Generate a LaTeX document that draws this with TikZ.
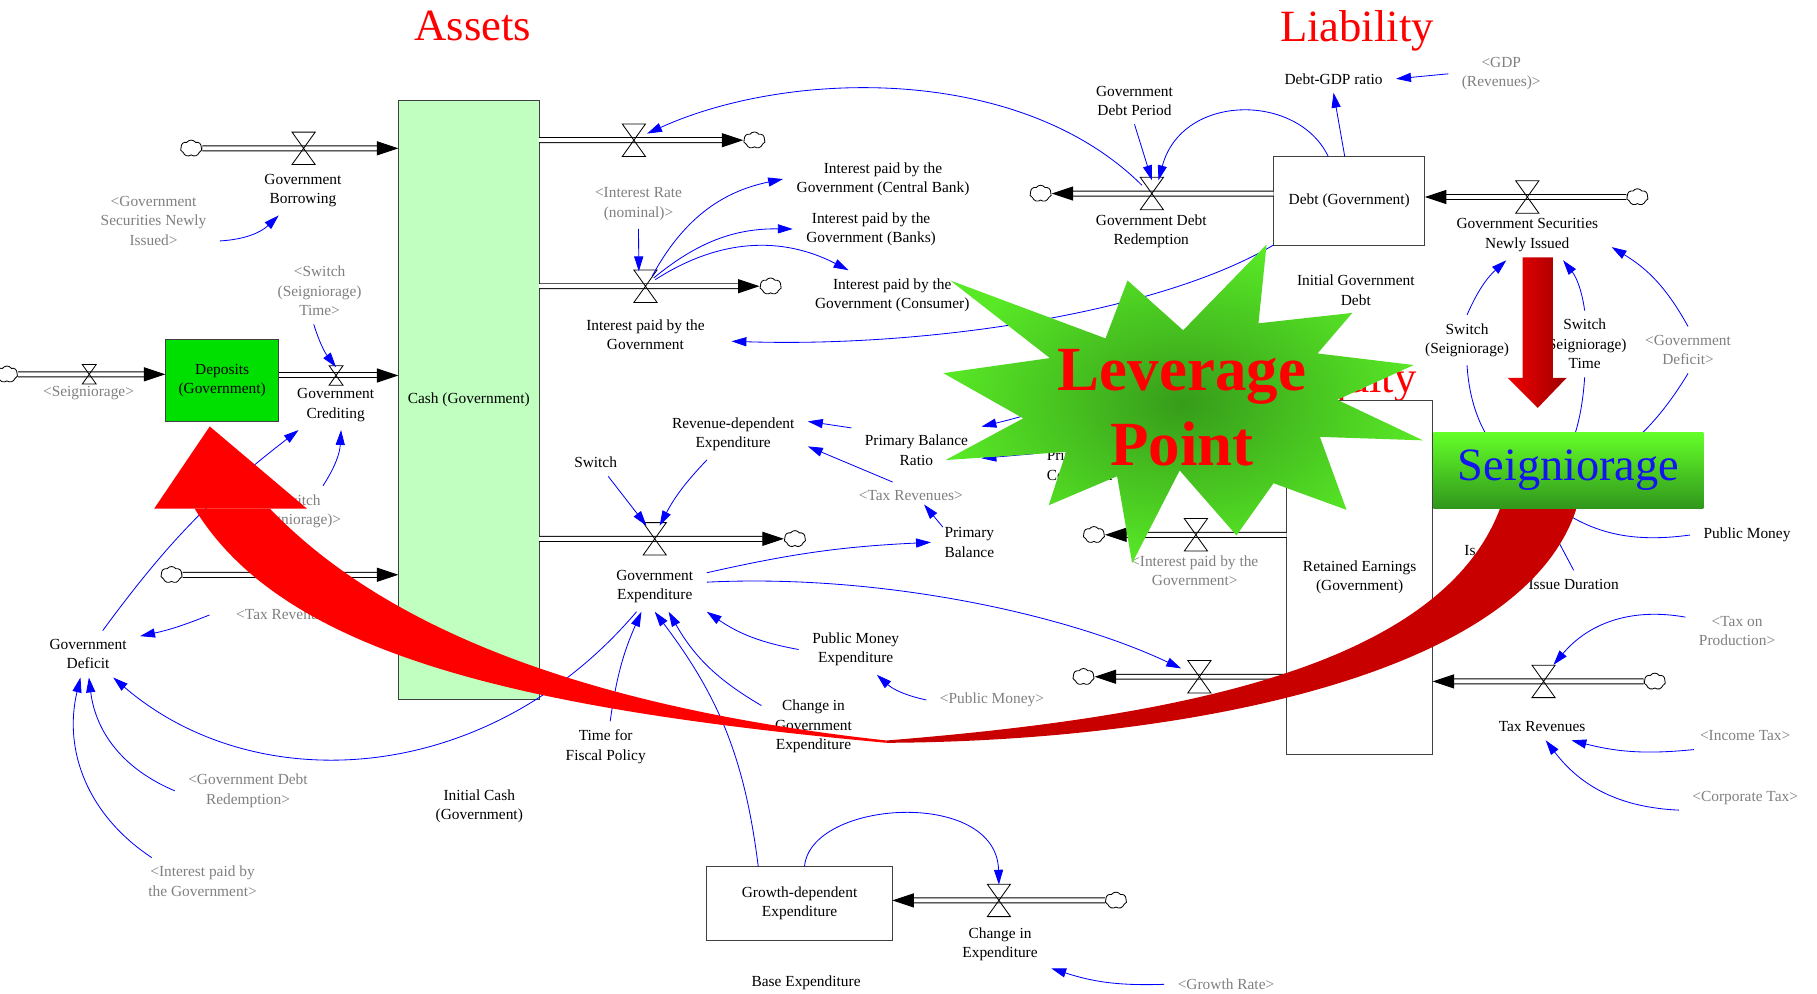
\documentclass[tikz,border=0pt]{standalone}
\usepackage{fontspec}
\setmainfont{Liberation Serif}
\usepackage{tikz}
\usetikzlibrary{arrows.meta,positioning,calc,shapes.symbols}
\definecolor{vblue}{RGB}{0,0,255}
\definecolor{shadowgray}{RGB}{128,128,128}
\definecolor{cashgreen}{RGB}{192,255,192}
\definecolor{depgreen}{RGB}{0,224,0}
\definecolor{burstlight}{RGB}{88,232,38}
\definecolor{burstdark}{RGB}{54,156,26}
\definecolor{seiglight}{RGB}{100,255,40}
\definecolor{seigdark}{RGB}{48,150,28}
\definecolor{seigblue}{RGB}{20,20,240}
\definecolor{banddark}{RGB}{200,0,0}
\definecolor{stockline}{RGB}{64,64,64}

% hourglass valve on a flow pipe
\newcommand{\valve}[2]{%
  \draw[valveline] ($(#1)+(-10*#2,-14*#2)$) -- ($(#1)+(10*#2,-14*#2)$)
    -- ($(#1)+(-10*#2,14*#2)$) -- ($(#1)+(10*#2,14*#2)$) -- cycle;}

\begin{document}
\begin{tikzpicture}[x=0.7pt, y=-0.7pt,
  lbl/.style={align=center, font=\fontsize{9.3}{11.7}\selectfont, inner xsep=8pt, inner ysep=5pt},
  shd/.style={lbl, text=shadowgray},
  ttl/.style={font=\fontsize{27}{30}\selectfont, text=red, anchor=base, inner sep=0pt},
  stock/.style={draw=stockline, line width=0.6pt, inner sep=0pt, outer sep=0pt,
                align=center, font=\fontsize{9.3}{11.7}\selectfont},
  cloudy/.style={cloud, cloud puffs=7, cloud puff arc=110, aspect=1.3, draw, fill=white,
                 minimum width=13pt, minimum height=10pt, inner sep=0pt, line width=0.5pt},
  pipe/.style={draw, double=white, double distance=2.4pt, line width=0.6pt,
               -{Triangle[length=13pt,width=8.5pt]}},
  valveline/.style={draw=black, line width=0.5pt},
  link/.style={draw=vblue, line width=0.5pt, -{Triangle[length=9pt,width=5.5pt]}}
]
  \path[use as bounding box, fill=white] (0,0) rectangle (1568,857);

  % Titles
  \node[ttl] (assetsT) at (408,35)  {Assets};
  \node[ttl] (liabT)   at (1171,36) {Liability};
  \node[ttl] (equityT) at (1171,339) {Equity};

  % Stocks
  \node[stock, fill=cashgreen, minimum width=85pt, minimum height=361.6pt] (cash) at (404.5,345.3) {Cash (Government)};
  \node[stock, fill=depgreen, minimum width=68.6pt, minimum height=49.7pt] (deposits) at (191.7,328.4) {Deposits\\(Government)};
  \node[stock, fill=white, minimum width=91.4pt, minimum height=53.5pt] (debt) at (1164.3,173.2) {Debt (Government)};
  \node[stock, fill=white, minimum width=88.1pt, minimum height=214pt] (retained) at (1173.3,498.1) {Retained Earnings\\(Government)};
  \node[stock, fill=white, minimum width=112pt, minimum height=44.7pt] (growthexp) at (690,779.3) {Growth-dependent\\Expenditure};

  % Clouds
  \node[cloudy] (c1)  at (165,128) {};
  \node[cloudy] (c2)  at (6,323) {};
  \node[cloudy] (c4)  at (148,496) {};
  \node[cloudy] (c5)  at (651,121) {};
  \node[cloudy] (c6)  at (665,247) {};
  \node[cloudy] (c7)  at (686,465) {};
  \node[cloudy] (c8)  at (944,461.5) {};
  \node[cloudy] (c9)  at (935,584) {};
  \node[cloudy] (c10) at (898,167) {};
  \node[cloudy] (c11) at (1413,170) {};
  \node[cloudy] (c12) at (1428,588) {};
  \node[cloudy] (c13) at (963,777) {};

  % Valve points
  \coordinate (vBorrow)   at (262,128);
  \coordinate (vSeig)     at (77,323);
  \coordinate (vCredit)   at (290,324);
  \coordinate (vDebtOut)  at (547,121);
  \coordinate (vInterest) at (557,247);
  \coordinate (vGovExp)   at (565,465);
  \coordinate (vReInt)    at (1032,461.5);
  \coordinate (vReExp)    at (1035,584);
  \coordinate (vRedeem)   at (994,167);
  \coordinate (vIssue)    at (1318,170);
  \coordinate (vTax)      at (1332,588);
  \coordinate (vGrowth)   at (862,777);

  % Pipes
  \draw[pipe] (c1.east) -- (cash.west |- vBorrow);
  \draw[pipe] (c2.east) -- (deposits.west |- vSeig);
  \draw[pipe] (deposits.east |- vCredit) -- (cash.west |- vCredit);
  \draw[pipe] (c4.east) -- (cash.west |- c4);
  \draw[pipe] (cash.east |- vDebtOut) -- (c5.west);
  \draw[pipe] (cash.east |- vInterest) -- (c6.west);
  \draw[pipe] (cash.east |- vGovExp) -- (c7.west);
  \draw[pipe] (retained.west |- vReInt) -- (c8.east);
  \draw[pipe] (retained.west |- vReExp) -- (c9.east);
  \draw[pipe] (debt.west |- vRedeem) -- (c10.east);
  \draw[pipe] (c11.west) -- (debt.east |- vIssue);
  \draw[pipe] (c12.west) -- (retained.east |- vTax);
  \draw[pipe] (c13.west) -- (growthexp.east |- vGrowth);

  % Valves
  \valve{vBorrow}{1}
  \valve{vSeig}{0.6}
  \valve{vCredit}{0.6}
  \valve{vDebtOut}{1}
  \valve{vInterest}{1}
  \valve{vGovExp}{1}
  \valve{vReInt}{1}
  \valve{vReExp}{1}
  \valve{vRedeem}{1}
  \valve{vIssue}{1}
  \valve{vTax}{1}
  \valve{vGrowth}{1}

  % Labels, assets side
  \node[lbl] (borrowL)     at (261.4,164.3) {Government\\Borrowing};
  \node[shd] (gsniS)       at (132.5,190.4) {<Government\\Securities Newly\\Issued>};
  \node[shd] (switchTimeS) at (275.8,251)   {<Switch\\(Seigniorage)\\Time>};
  \node[shd] (seigS)       at (76.4,339.4)  {<Seigniorage>};
  \node[lbl] (creditL)     at (289.7,349.5) {Government\\Crediting};
  \node[shd] (switchSeigS) at (254.5,441)   {<Switch\\(Seigniorage)>};
  \node[shd] (taxRevS)     at (248.7,530.7) {<Tax Revenues>};
  \node[lbl] (deficitL)    at (76,564.4)    {Government\\Deficit};
  \node[shd] (gdrS)        at (214,682.4)   {<Government Debt\\Redemption>};
  \node[shd] (ipgS)        at (174.8,760.5) {<Interest paid by\\the Government>};
  \node[lbl] (initCashL)   at (413.6,696)   {Initial Cash\\(Government)};

  % Labels, middle
  \node[lbl] (ipgL)       at (557,289)     {Interest paid by the\\Government};
  \node[shd] (rateS)      at (551,176)     {<Interest Rate\\(nominal)>};
  \node[lbl] (cbL)        at (762,154.5)   {Interest paid by the\\Government (Central Bank)};
  \node[lbl] (banksL)     at (751.7,197.6) {Interest paid by the\\Government (Banks)};
  \node[lbl] (consL)      at (770,255)     {Interest paid by the\\Government (Consumer)};
  \node[lbl] (switchL)    at (514,399)     {Switch};
  \node[lbl] (rdeL)       at (632.7,375)   {Revenue-dependent\\Expenditure};
  \node[lbl] (pbrL)       at (790.8,388.6) {Primary Balance\\Ratio};
  \node[shd] (taxRev2S)   at (786,427.8)   {<Tax Revenues>};
  \node[lbl] (pbL)        at (836.5,468)   {Primary\\Balance};
  \node[lbl] (govExpL)    at (565,506.3)   {Government\\Expenditure};
  \node[lbl] (pmeL)       at (738.4,560.5) {Public Money\\Expenditure};
  \node[shd] (pmS)        at (856,604)     {<Public Money>};
  \node[lbl] (cgeL)       at (702,627)     {Change in\\Government\\Expenditure};
  \node[lbl] (tfpL)       at (522.7,644.4) {Time for\\Fiscal Policy};
  \node[lbl] (changeExpL) at (863,815)     {Change in\\Expenditure};
  \node[lbl] (baseExpL)   at (695.6,847.7) {Base Expenditure};
  \node[shd] (growthS)    at (1058,849.4)  {<Growth Rate>};
  \node[lbl, align=left, anchor=west] (priHidden) at (891.6,401.5) {Primary Balance\\Correction};
  \coordinate (pbHidden) at (960,330);

  % Labels, liability and equity side
  \node[lbl] (debtPeriodL) at (979,87)      {Government\\Debt Period};
  \node[lbl] (dgrL)        at (1150.8,68)   {Debt-GDP ratio};
  \node[shd] (gdpRevS)     at (1295.5,63.7) {<GDP\\(Revenues)>};
  \node[lbl] (redeemL)     at (993.5,199.5) {Government Debt\\Redemption};
  \node[lbl] (gsniL)       at (1318,203)    {Government Securities\\Newly Issued};
  \node[lbl] (initDebtL)   at (1170,250.6)  {Initial Government\\Debt};
  \node[lbl] (swSeigL)     at (1266,293.5)  {Switch\\(Seigniorage)};
  \node[lbl] (sstL)        at (1367.5,296.8) {Switch\\(Seigniorage)\\Time};
  \node[shd] (gdS)         at (1456.7,302)  {<Government\\Deficit>};
  \node[shd] (reIntS)      at (1031,492.6)  {<Interest paid by the\\Government>};
  \node[lbl] (pmoneyL)     at (1507.6,461.7) {Public Money};
  \node[lbl] (issueL)      at (1358,504)    {Issue Duration};
  \node[lbl, anchor=west] (isHidden) at (1252,475) {Is};
  \node[shd] (topS)        at (1499,544.5)  {<Tax on\\Production>};
  \node[lbl] (tvL)         at (1330.7,627)  {Tax Revenues};
  \node[shd] (itS)         at (1506,635)    {<Income Tax>};
  \node[shd] (ctS)         at (1506,689)    {<Corporate Tax>};
  \coordinate (seigVar)     at (1335,420);
  \coordinate (seigVarLow)  at (1340,436);
  \coordinate (issueHidden) at (1325,430);

  % Links, assets side
  \draw[link] (gsniS.-17) to[bend right=20] (borrowL.-134);
  \draw[link] (switchTimeS.-100) to[bend right=10] ([yshift=5pt]vCredit);
  \draw[link] (deficitL.58) to[bend left=8] (creditL.-146);
  \draw[link] (switchSeigS.42) to[bend right=15] (creditL.-78);
  \draw[link] ([xshift=-8pt]taxRevS.west) to[bend left=5] (deficitL.19);
  \draw[link] (gdrS.west) to[bend left=30] (deficitL.-88);
  \draw[link] (ipgS.155) to[bend left=35] (deficitL.-108);
  \draw[link] (govExpL.-126) .. controls (420,680) and (220,690) .. (deficitL.-43);

  % Links, middle
  \draw[link] (rateS.south) -- ([xshift=-4pt,yshift=9pt]vInterest);
  \draw[link] ([xshift=4pt,yshift=6pt]vInterest) to[bend left=25] (cbL.west);
  \draw[link] ([xshift=5pt,yshift=5pt]vInterest) to[bend left=20] (banksL.west);
  \draw[link] ([xshift=6pt,yshift=4pt]vInterest) to[bend left=30] (consL.150);
  \draw[link] (debt.south west) .. controls (1000,270) and (800,300) .. ([xshift=8pt]ipgL.-5);
  \draw[link] ([xshift=-6pt,yshift=5pt]vRedeem) .. controls (880,55) and (680,60) .. ([xshift=8pt,yshift=4pt]vDebtOut);
  \draw[link] (switchL.-48) -- ([xshift=-5pt,yshift=8pt]vGovExp);
  \draw[link] (rdeL.-136) to[bend right=8] ([xshift=3pt,yshift=8pt]vGovExp);
  \draw[link] (pbrL.161) -- (rdeL.10);
  \draw[link] (taxRev2S.143) -- (rdeL.-9);
  \draw[link] (priHidden.170) -- (pbrL.-7);
  \draw[link] (pbHidden) to[bend left=5] (pbrL.20);
  \draw[link] ([xshift=-16pt,yshift=-5pt]pbL.north) -- ([xshift=8pt,yshift=3pt]taxRev2S.south);
  \draw[link] (govExpL.15) to[bend left=5] (pbL.west);
  \draw[link] (govExpL.5) .. controls (760,495) and (920,530) .. ([xshift=-11pt,yshift=5pt]vReExp);
  \draw[link] (pmeL.west) to[bend left=12] (govExpL.south east);
  \draw[link] (pmS.west) to[bend left=15] (pmeL.-50);
  \draw[link] (cgeL.158) to[bend left=15] (govExpL.-61);
  \draw[link] (tfpL.80) to[bend left=8] (govExpL.-118);
  \draw[link] ([xshift=31pt]growthexp.north west) to[bend right=15] (govExpL.south);
  \draw[link] ([xshift=59pt]growthexp.north west) .. controls (700,690) and (860,680) .. ([yshift=9.5pt]vGrowth);
  \draw[link] (growthS.west) to[bend left=10] (changeExpL.-25);

  % Links, liability and equity side
  \draw[link] (debtPeriodL.south) -- ([yshift=8pt]vRedeem);
  \draw[link] ([xshift=33pt]debt.north west) .. controls (1120,80) and (1020,80) .. ([xshift=4pt,yshift=8pt]vRedeem);
  \draw[link] ([xshift=43pt]debt.north west) -- (dgrL.south);
  \draw[link] (gdpRevS.west) -- (dgrL.east);
  \draw[link] (swSeigL.north) to[bend left=12] (gsniL.-130);
  \draw[link] (sstL.north) to[bend right=15] (gsniL.-35);
  \draw[link] (gdS.north) to[bend right=15] (gsniL.-8);
  \draw[link] (swSeigL.south) to[bend right=30] (seigVar);
  \draw[link] (sstL.south) to[bend left=15] (seigVar);
  \draw[link] (gdS.south) to[bend left=20] (seigVar);
  \draw[link] (pmoneyL.west) to[bend left=20] (seigVarLow);
  \draw[link] (issueL.north) -- (issueHidden);
  \draw[link] (topS.165) to[bend right=30] ([xshift=6pt,yshift=10pt]vTax);
  \draw[link] (itS.-165) to[bend left=10] (tvL.-25);
  \draw[link] (ctS.-170) to[bend left=25] (tvL.-75);

  % Red feedback band
  \fill[red] (168,439) .. controls (245,565) and (450,612) .. (765,641)
    -- (765,639) .. controls (500,610) and (330,540) .. (233,439) -- cycle;
  \fill[red] (133,439) -- (181,368) -- (265,439) -- cycle;
  \fill[banddark] (765,639) .. controls (1000,620) and (1240,580) .. (1294,440)
    -- (1294,430) -- (1360,430) -- (1360,440)
    .. controls (1310,590) and (1000,640) .. (765,641) -- cycle;

  % Seigniorage highlight
  \node[top color=seiglight, bottom color=seigdark, minimum width=163.1pt, minimum height=46.2pt,
        inner sep=0pt, text=seigblue, font=\fontsize{28}{30}\selectfont] (seigBox) at (1353.5,406) {Seigniorage};
  \shade[left color=red!95!black, right color=red!62!black]
    (1314,222) -- (1340,222) -- (1340,326) -- (1352,326) -- (1327,352) -- (1301,326) -- (1314,326) -- cycle;

  % Leverage point star
  \shade[inner color=burstdark, outer color=burstlight]
    (820,242) -- (954,292) -- (973,242) -- (1021,285) -- (1093,211) -- (1086,279)
    -- (1167,270) -- (1137,305) -- (1220,315) -- (1154,345) -- (1228,380) -- (1139,377)
    -- (1162,440) -- (1099,417) -- (1067,462) -- (1018,406) -- (977,486) -- (964,411)
    -- (905,436) -- (920,390) -- (816,397) -- (883,361) -- (814,322) -- (906,309) -- cycle;
  \node[font=\bfseries\fontsize{38}{45.5}\selectfont, text=red, align=center] (leverage) at (1020,352) {Leverage\\Point};
\end{tikzpicture}
\end{document}
